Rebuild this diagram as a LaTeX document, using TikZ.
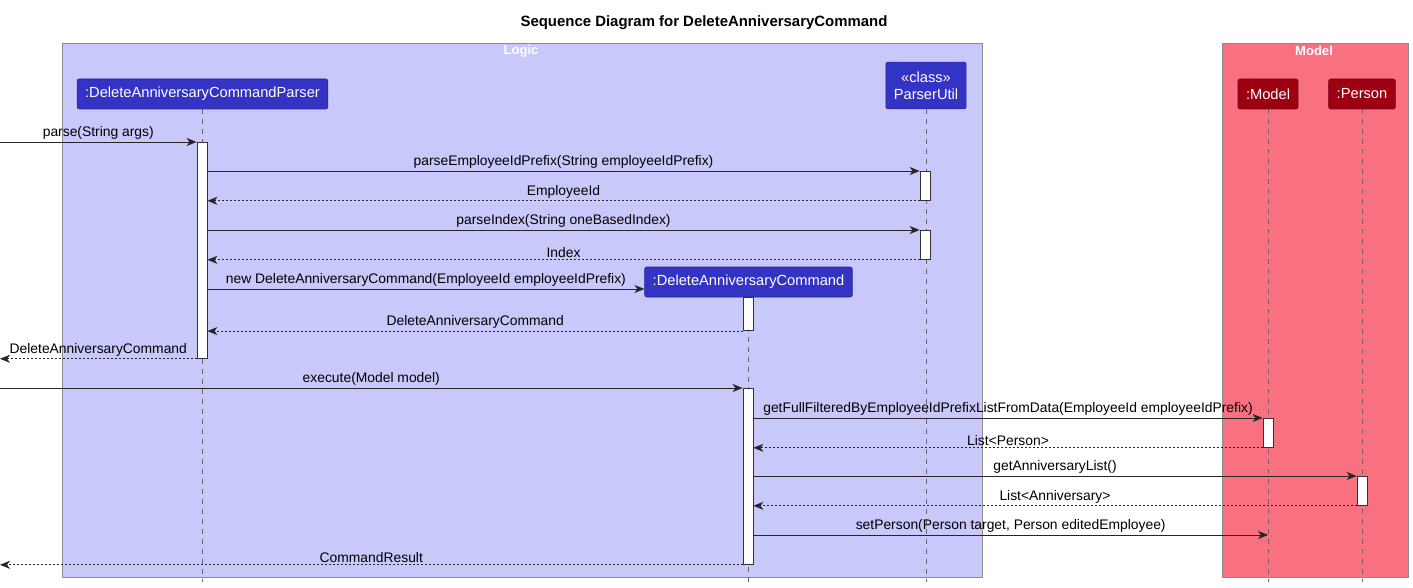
\documentclass[tikz,border=0pt]{standalone}
\usepackage{fontspec}
\setmainfont{Liberation Sans}
\usetikzlibrary{positioning}
\usetikzlibrary{arrows.meta}
\usetikzlibrary{calc}
\definecolor{logicc}{HTML}{3333C4}
\definecolor{logict}{HTML}{C8C8FA}
\definecolor{modelc}{HTML}{9D0012}
\definecolor{modelt}{HTML}{F97181}
\tikzset{msg/.style={draw=black!85, line width=0.6pt, -{Stealth[length=7.5pt,width=6pt,inset=2.2pt]}}}
\tikzset{ret/.style={msg, dash pattern=on 1.5pt off 1.5pt}}
\tikzset{lbl/.style={above, inner sep=1.5pt, font=\fontsize{10.4}{12}\selectfont}}
\tikzset{part/.style={draw=#1!75!black, fill=#1, rounded corners=1.5pt, text=white, font=\fontsize{11}{13}\selectfont, minimum height=22.5pt, inner xsep=6pt, align=center}}
\tikzset{act/.style={draw=black!80, fill=white, minimum width=7.5pt, inner sep=0pt, anchor=north, line width=0.6pt}}
\tikzset{life/.style={draw=black!60, dash pattern=on 3.75pt off 3.75pt, line width=0.5pt}}
\tikzset{grp/.style={draw=black!45, fill=#1, line width=0.6pt}}
\tikzset{gttl/.style={text=white, font=\bfseries\fontsize{9.8}{11}\selectfont}}

\begin{document}
\begin{tikzpicture}[x=0.75pt, y=-0.75pt]
        \useasboundingbox (0,0) rectangle (1413,588);
        \node[font=\bfseries\fontsize{11.2}{13}\selectfont] (ttl) at (704,23) {Sequence Diagram for DeleteAnniversaryCommand};

        % boxes
        \draw[grp=logict] (62,43) rectangle (982,577);
        \draw[grp=modelt] (1222,43) rectangle (1408,577);
        \node[gttl] (lgc) at (521,51) {Logic};
        \node[gttl] (mdl) at (1314,51) {Model};

        \coordinate (edge) at (0,0);
        \coordinate (bot) at (0,582);

        % participants
        \node[part=logicc] (dacp) at (202.5,94) {:DeleteAnniversaryCommandParser};
        \node[part=logicc, minimum height=35pt] (pu) at (926,85.5) {«class»\\ParserUtil};
        \node[part=modelc] (model) at (1268,94) {:Model};
        \node[part=modelc] (person) at (1362,94) {:Person};
        \node[part=logicc] (dac) at (748.5,282) {:DeleteAnniversaryCommand};

        \draw[life] (dacp.south) -- (dacp.south |- bot);
        \draw[life] (pu.south) -- (pu.south |- bot);
        \draw[life] (model.south) -- (model.south |- bot);
        \draw[life] (person.south) -- (person.south |- bot);
        \draw[life] (dac.south) -- (dac.south |- bot);

        % activations
        \node[act, minimum height=162pt] (pb) at (202,142) {};
        \node[act, minimum height=21.75pt] (pu1) at (925,171) {};
        \node[act, minimum height=21.75pt] (pu2) at (925,230) {};
        \node[act, minimum height=24.75pt] (cb1) at (dac.south) {};
        \node[act, minimum height=132pt] (cb2) at (748,388) {};
        \node[act, minimum height=21.75pt] (mb) at (1268,418) {};
        \node[act, minimum height=21.75pt] (prb) at (1362,476) {};
        \coordinate (newp) at ([yshift=-5.25pt]dac.west);
        \coordinate (setp) at (1268,535);

        % messages
        \draw[msg] (edge |- pb.north) -- node[midway, lbl] {parse(String args)} (pb.north west);
        \draw[msg] (pb.east |- pu1.north) -- node[midway, lbl] {parseEmployeeIdPrefix(String employeeIdPrefix)} (pu1.north west);
        \draw[ret] (pu1.south west) -- node[midway, lbl] {EmployeeId} (pb.east |- pu1.south);
        \draw[msg] (pb.east |- pu2.north) -- node[midway, lbl] {parseIndex(String oneBasedIndex)} (pu2.north west);
        \draw[ret] (pu2.south west) -- node[midway, lbl] {Index} (pb.east |- pu2.south);
        \draw[msg] (pb.east |- newp) -- node[midway, lbl] {new DeleteAnniversaryCommand(EmployeeId employeeIdPrefix)} (newp);
        \draw[ret] (cb1.south west) -- node[midway, lbl] {DeleteAnniversaryCommand} (pb.east |- cb1.south);
        \draw[ret] (pb.south west) -- node[midway, lbl] {DeleteAnniversaryCommand} (edge |- pb.south);

        \draw[msg] (edge |- cb2.north) -- node[midway, lbl] {execute(Model model)} (cb2.north west);
        \draw[msg] (cb2.east |- mb.north) -- node[midway, lbl] {getFullFilteredByEmployeeIdPrefixListFromData(EmployeeId employeeIdPrefix)} (mb.north west);
        \draw[ret] (mb.south west) -- node[midway, lbl] {List<Person>} (cb2.east |- mb.south);
        \draw[msg] (cb2.east |- prb.north) -- node[midway, lbl] {getAnniversaryList()} (prb.north west);
        \draw[ret] (prb.south west) -- node[midway, lbl] {List<Anniversary>} (cb2.east |- prb.south);
        \draw[msg] (cb2.east |- setp) -- node[midway, lbl] {setPerson(Person target, Person editedEmployee)} (setp);
        \draw[ret] (cb2.south west) -- node[midway, lbl] {CommandResult} (edge |- cb2.south);
    \end{tikzpicture}
\end{document}
